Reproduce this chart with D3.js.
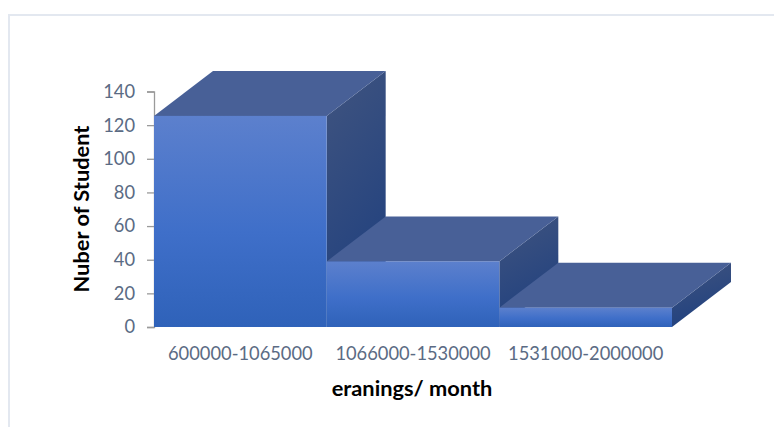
<!DOCTYPE html>
<html lang="en">

<head>
    <meta charset="UTF-8">
    <title>Number of students by monthly earnings</title>
    <script src="https://d3js.org/d3.v7.min.js"></script>
    <style>
        html, body { margin: 0; background: #fff; }
        svg { display: block; }
        text { font-family: Lato, "Open Sans", sans-serif; }
        .tick text { fill: #5b6b84; font-size: 18.3px; }
        .title { fill: #000; font-size: 21.8px; font-weight: 700; }
    </style>
</head>

<body>
    <div id="chart"></div>

    <script>
        const categories = ["600000-1065000", "1066000-1530000", "1531000-2000000"];
        const students = [125.5, 39, 11.5];
        const yTicks = [0, 20, 40, 60, 80, 100, 120, 140];

        const width = 774, height = 427;
        const depthX = 59, depthY = -45;

        const svg = d3.select("#chart").append("svg")
            .attr("width", width)
            .attr("height", height);

        const defs = svg.append("defs");

        // front face goes lighter to darker, top to bottom
        const front = defs.append("linearGradient")
            .attr("id", "front").attr("x1", 0).attr("y1", 0).attr("x2", 0).attr("y2", 1);
        front.append("stop").attr("offset", "0%").attr("stop-color", "#5c80cd");
        front.append("stop").attr("offset", "55%").attr("stop-color", "#3f6fc9");
        front.append("stop").attr("offset", "100%").attr("stop-color", "#2f62b9");

        const side = defs.append("linearGradient")
            .attr("id", "side").attr("x1", 0).attr("y1", 0).attr("x2", 0.3).attr("y2", 1);
        side.append("stop").attr("offset", "0%").attr("stop-color", "#40547f");
        side.append("stop").attr("offset", "100%").attr("stop-color", "#21417f");

        // page frame, only top and left edges show
        svg.append("path")
            .attr("d", d3.line()([[9, height], [9, 15], [width, 15]]))
            .attr("fill", "none")
            .attr("stroke", "#e3e8f0")
            .attr("stroke-width", 2);

        const x = d3.scaleBand().domain(categories).range([154, 672]).padding(0);
        const y = d3.scaleLinear().domain([0, 140]).range([327, 91.5]);

        // y axis
        const yAxis = svg.append("g")
            .attr("transform", "translate(154,0)")
            .call(d3.axisLeft(y).tickValues(yTicks).tickSize(7).tickPadding(12));
        yAxis.selectAll("path, line").attr("stroke", "#9a9a9a").attr("stroke-width", 1.3);

        // x axis labels
        const xAxis = svg.append("g")
            .attr("transform", "translate(0,327)")
            .call(d3.axisBottom(x).tickSize(0).tickPadding(20));
        xAxis.select("path").remove();

        // 3D bars, each sits in its own column
        const bars = svg.append("g")
            .selectAll("g")
            .data(categories.map((c, i) => ({ c, v: students[i] })))
            .join("g");

        const line = d3.line();

        bars.append("path") // side face
            .attr("d", d => {
                const xr = x(d.c) + x.bandwidth();
                return line([[xr, y(d.v)], [xr + depthX, y(d.v) + depthY], [xr + depthX, y(0) + depthY], [xr, y(0)]]) + "Z";
            })
            .attr("fill", "url(#side)");

        bars.append("path") // top face
            .attr("d", d => {
                const xl = x(d.c), xr = xl + x.bandwidth();
                return line([[xl, y(d.v)], [xl + depthX, y(d.v) + depthY], [xr + depthX, y(d.v) + depthY], [xr, y(d.v)]]) + "Z";
            })
            .attr("fill", "#486097");

        bars.append("rect") // front face
            .attr("x", d => x(d.c))
            .attr("y", d => y(d.v))
            .attr("width", x.bandwidth())
            .attr("height", d => y(0) - y(d.v))
            .attr("fill", "url(#front)");

        // axis titles
        svg.append("text")
            .attr("class", "title")
            .attr("text-anchor", "middle")
            .attr("transform", "translate(89,209) rotate(-90)")
            .text("Nuber of Student");

        svg.append("text")
            .attr("class", "title")
            .attr("text-anchor", "middle")
            .attr("x", 412)
            .attr("y", 396)
            .text("eranings/ month");
    </script>
</body>

</html>
